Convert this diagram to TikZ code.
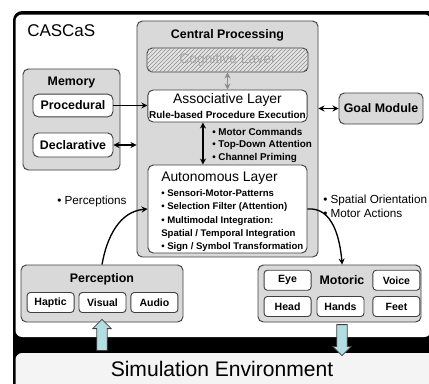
\documentclass[tikz,border=0pt]{standalone}
\usepackage{fontspec}
\setmainfont{Liberation Sans}
\usetikzlibrary{arrows.meta, positioning, shapes.arrows, patterns}
\definecolor{panel}{RGB}{217,217,217}
\definecolor{edge}{RGB}{64,64,64}
\definecolor{simbg}{RGB}{244,244,244}
\definecolor{iofill}{RGB}{178,221,226}
\newcommand{\ptsize}[2]{\fontsize{#1pt}{#2pt}\selectfont}

\begin{document}
\begin{tikzpicture}[
    x=0.75pt, y=-0.75pt,
    panelbox/.style={
        rectangle, rounded corners=4pt,
        draw=edge, line width=0.7pt, fill=panel
    },
    layer/.style={
        rectangle, rounded corners=4pt,
        draw=edge, line width=0.7pt, fill=white
    },
    item/.style={
        rectangle, rounded corners=2.5pt,
        draw=edge, line width=0.7pt, fill=white,
        minimum width=35.25pt, minimum height=15pt, inner sep=0pt,
        font=\bfseries\ptsize{7.9}{9}
    },
    title/.style={font=\bfseries\ptsize{9.3}{11}, inner sep=0pt},
    note/.style={align=left, inner sep=0pt, font=\ptsize{8.8}{10.5}},
    arrow/.style={
        -{Stealth[length=4.5pt, width=4.5pt]}, line width=1pt, draw=black
    },
    twoway/.style={
        {Stealth[length=4.5pt, width=4.5pt]}-{Stealth[length=4.5pt, width=4.5pt]},
        line width=1pt, draw=black
    },
    iobig/.style={
        single arrow, draw=edge, line width=0.6pt, fill=iofill,
        minimum height=23.25pt, inner sep=3.6pt,
        single arrow head extend=3pt, single arrow tip angle=90
    }
]
\useasboundingbox (0,0) rectangle (429,383);

% Frame
\fill[black, rounded corners=7pt] (13,11) rectangle (445,400);
\fill[white, rounded corners=5pt] (15.5,14.5) rectangle (431,337);
\fill[simbg, rounded corners=5pt] (15.5,353) rectangle (445,400);
\node[anchor=west, font=\ptsize{12.75}{15}, inner sep=0pt] (cascas) at (27,31) {CASCaS};

% Central processing
\node[panelbox, minimum width=135.75pt, minimum height=177pt] (central) at (227.5,139) {};
\node[title] (cptitle) at (227.5,35) {Central Processing};
\node[layer, fill=black!10, postaction={pattern=north east lines, pattern color=black!45},
      minimum width=120.75pt, minimum height=18pt, text=black!35,
      font=\ptsize{10.4}{12}] (cognitive) at (227.5,60) {Cognitive Layer};
\node[layer, minimum width=119.25pt, minimum height=24pt, align=center, inner sep=1pt] (assoc) at (227.5,106)
    {{\ptsize{10.4}{12}Associative Layer}\\[-1pt]{\bfseries\ptsize{7.5}{9}Rule-based Procedure Execution}};
\node[layer, minimum width=119.25pt, minimum height=66pt] (auto) at (227.5,209) {};
\node[anchor=north west, align=left, inner sep=0pt, font=\bfseries\ptsize{7.2}{10}] (autotext) at (161,172)
    {{\mdseries\ptsize{10.4}{12}Autonomous Layer}\\[1pt]
     • Sensori-Motor-Patterns\\
     • Selection Filter (Attention)\\
     • Multimodal Integration:\\
     Spatial / Temporal Integration\\
     • Sign / Symbol Transformation};
\node[note, anchor=west, font=\bfseries\ptsize{7.4}{9.4}] (commands) at (212,145)
    {• Motor Commands\\• Top-Down Attention\\• Channel Priming};

% Memory
\node[panelbox, minimum width=72.75pt, minimum height=75.75pt] (memory) at (71.5,119.5) {};
\node[title] (memtitle) at (71.5,83) {Memory};
\node[layer, title, inner sep=0pt, minimum width=60pt, minimum height=17pt] (procedural) at (73,105.5) {Procedural};
\node[layer, title, inner sep=0pt, minimum width=60pt, minimum height=18pt] (declarative) at (73,145) {Declarative};

% Goal module
\node[panelbox, title, minimum width=63pt, minimum height=23.25pt] (goal) at (381,108.5) {Goal Module};

% Perception
\node[panelbox, minimum width=121.5pt, minimum height=42.75pt] (perception) at (102,293.5) {};
\node[title] (perctitle) at (102,279) {Perception};
\node[item] (visual) at (102.5,302.5) {Visual};
\node[item, left=3pt of visual] (haptic) {Haptic};
\node[item, right=3pt of visual] (audio) {Audio};

% Motoric
\node[panelbox, minimum width=122.25pt, minimum height=42.75pt] (motoric) at (339.5,293.5) {};
\node[title] (mottitle) at (342,280) {Motoric};
\node[item] (hands) at (340.5,306.5) {Hands};
\node[item, left=3.75pt of hands] (head) {Head};
\node[item, right=6pt of hands] (feet) {Feet};
\node[item, above=4pt of head] (eye) {Eye};
\node[item, above=4pt of feet] (voice) {Voice};

% Notes
\node[note, anchor=west] (perceptions) at (57,201) {• Perceptions};
\node[note, anchor=west] (actions) at (323,206) {• Spatial Orientation\\• Motor Actions};

% Connectors
\draw[arrow] (procedural.east) -- (procedural.east -| assoc.west);
\draw[twoway] (declarative.east) -- (declarative.east -| central.west);
\draw[twoway] (central.east |- goal.west) -- (goal.west);
\draw[twoway, draw=black!45, line width=0.9pt] (cognitive) -- (assoc);
\draw[twoway] ([xshift=-18.4pt]assoc.south) -- ([xshift=-18.4pt]auto.north);
\draw[arrow] (perception.north) to[out=80, in=185] (auto.west);
\draw[arrow] (auto.east) to[out=5, in=95] ([xshift=2pt]motoric.north);

% Simulation environment
\node[iobig, rotate=90] (sensein) at (102,337.5) {};
\node[iobig, rotate=-90] (actout) at (342,337.5) {};
\node[font=\ptsize{15.8}{18}] (simenv) at (222,369) {Simulation Environment};

\end{tikzpicture}
\end{document}
